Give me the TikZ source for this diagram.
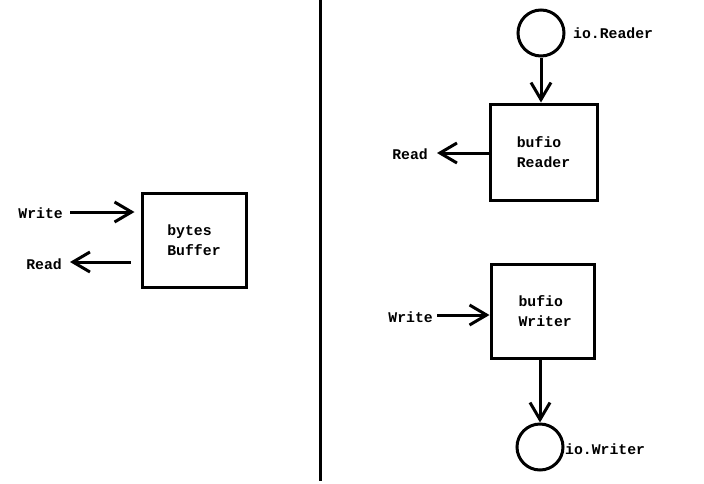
\documentclass[tikz,border=0pt]{standalone}
\usepackage{fontspec}
\setmonofont{Liberation Mono}
\usetikzlibrary{arrows.meta}
\tikzset{
  box/.style={draw, line width=3pt, inner sep=0pt, align=left, font=\lbfont},
  port/.style={draw, circle, line width=3pt, minimum size=46pt, inner sep=0pt},
  lbl/.style={inner sep=0pt, font=\lbfont},
  arr/.style={line width=3pt, -{Straight Barb[length=17pt, width=20pt]}}
}
\newcommand{\lbfont}{\ttfamily\bfseries\fontsize{14.8}{20}\selectfont}
\begin{document}
\begin{tikzpicture}[x=1pt,y=-1pt]
\useasboundingbox (0,0) rectangle (704,483);
\draw[line width=3pt] (320,0) -- (320,481);
\node[box, minimum width=104pt, minimum height=94pt] (bytesbuf) at (194,240) {bytes\\Buffer};
\node[lbl, anchor=east] (bwrite) at (63,213) {Write};
\node[lbl, anchor=east] (bread) at (62,264) {Read};
\draw[arr, shorten <=7pt, shorten >=6pt] (bwrite.east |- 0,212) -- (bytesbuf.west |- 0,212);
\draw[arr, shorten <=10pt, shorten >=8pt] (bytesbuf.west |- 0,262) -- (bread.east |- 0,262);
\node[port] (ioreader) at (541,33) {};
\node[lbl, anchor=west] (ioreaderl) at (573,33) {io.Reader};
\node[box, minimum width=107pt, minimum height=96pt] (bufreader) at (543.5,152) {bufio\\Reader};
\node[lbl, anchor=east] (rread) at (428,154) {Read};
\draw[arr] (ioreader.south) -- (ioreader.south |- bufreader.north);
\draw[arr, shorten >=9pt] (bufreader.west |- 0,153) -- (rread.east |- 0,153);
\node[box, minimum width=103pt, minimum height=94pt, text width=62pt] (bufwriter) at (542.5,311) {\hspace*{7pt}bufio\\\hspace*{7pt}Writer};
\node[lbl, anchor=east] (wwrite) at (433,317) {Write};
\draw[arr, shorten <=4pt] (wwrite.east |- 0,315) -- (bufwriter.west |- 0,315);
\node[port] (iowriter) at (540,447) {};
\node[lbl, anchor=west] (iowriterl) at (565,449) {io.Writer};
\draw[arr] (bufwriter.south -| iowriter.north) -- (iowriter.north);
\end{tikzpicture}
\end{document}
